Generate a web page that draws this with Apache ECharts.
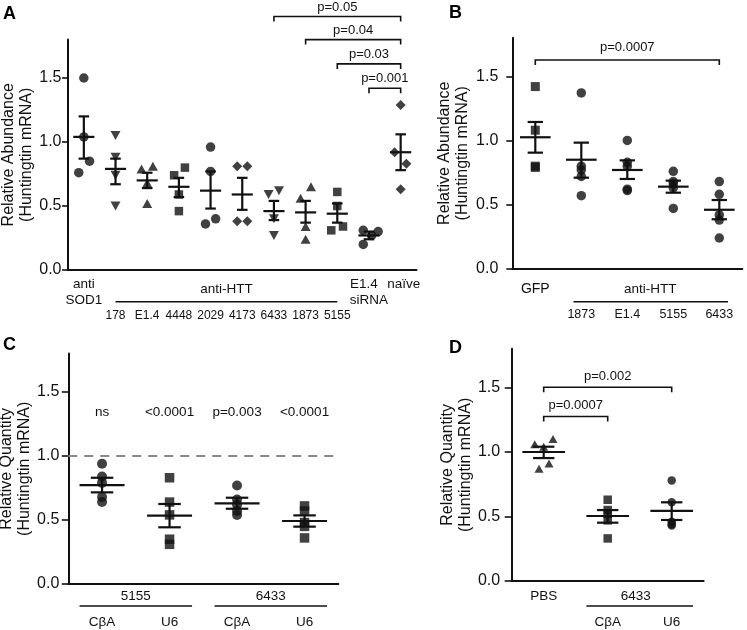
<!DOCTYPE html>
<html><head><meta charset="utf-8">
<script src="https://cdn.jsdelivr.net/npm/echarts@6/dist/echarts.min.js"></script>
<style>html,body{margin:0;padding:0;background:#fff}#c{width:747px;height:630px}</style>
</head><body><div id="c"></div>
<script>
// ---------------- DATA ----------------
const yTicks = [0, 0.5, 1.0, 1.5];
const yMax = 1.8;

// Panel A
const catsA = ['anti\nSOD1','178','E1.4','4448','2029','4173','6433','1873','5155','E1.4\nsiRNA','naïve'];
const symA  = ['circle','triangleDown','triangle','rect','circle','diamond','triangleDown','triangle','rect','circle','diamond'];
const ptsA = [
  [1.50, 1.04, 0.85, 0.76],
  [1.05, 0.88, 0.74, 0.50],
  [0.79, 0.81, 0.68, 0.52],
  [0.74, 0.80, 0.59, 0.46],
  [0.96, 0.77, 0.36, 0.40],
  [0.81, 0.81, 0.38, 0.38],
  [0.59, 0.62, 0.40, 0.27],
  [0.56, 0.65, 0.34, 0.24],
  [0.61, 0.50, 0.31, 0.34],
  [0.31, 0.30, 0.27, 0.20],
  [1.29, 0.92, 0.83, 0.63]
];
const meanA  = [1.04, 0.79, 0.70, 0.65, 0.62, 0.59, 0.46, 0.45, 0.44, 0.27, 0.92];
const semLoA = [0.87, 0.67, 0.64, 0.57, 0.48, 0.47, 0.39, 0.37, 0.37, 0.24, 0.78];
const semHiA = [1.20, 0.87, 0.76, 0.72, 0.77, 0.72, 0.54, 0.54, 0.52, 0.30, 1.06];
const groupA = {label: 'anti-HTT', from: 1, to: 8};
const bracketFromA = [6, 7, 8, 9];
const bracketToA   = [10, 10, 10, 10];
const bracketLvlA  = [1.98, 1.80, 1.61, 1.42];
const bracketTxtA  = ['p=0.05', 'p=0.04', 'p=0.03', 'p=0.001'];

// Panel B
const catsB = ['GFP','1873','E1.4','5155','6433'];
const symB  = ['rect','circle','circle','circle','circle'];
const ptsB = [
  [1.42, 1.08, 0.80, 0.79],
  [1.37, 0.80, 0.77, 0.72, 0.57],
  [1.00, 0.83, 0.80, 0.62, 0.61],
  [0.76, 0.68, 0.66, 0.63, 0.47],
  [0.68, 0.58, 0.42, 0.38, 0.24]
];
const meanB  = [1.025, 0.85, 0.77, 0.64, 0.46];
const semLoB = [0.905, 0.71, 0.70, 0.593, 0.386];
const semHiB = [1.144, 0.983, 0.845, 0.687, 0.536];
const groupB = {label: 'anti-HTT', from: 1, to: 4};
const bracketFromB = [0];
const bracketToB   = [4];
const bracketLvlB  = [1.627];
const bracketTxtB  = ['p=0.0007'];

// Panel C
const catsC = ['CβA','U6','CβA','U6'];
const symC  = ['circle','rect','circle','rect'];
const ptsC = [
  [0.94, 0.84, 0.79, 0.68, 0.64],
  [0.83, 0.64, 0.54, 0.35, 0.31],
  [0.77, 0.66, 0.62, 0.57, 0.54],
  [0.61, 0.57, 0.48, 0.45, 0.36]
];
const meanC  = [0.773, 0.534, 0.63, 0.492];
const semLoC = [0.716, 0.443, 0.588, 0.448];
const semHiC = [0.83, 0.625, 0.674, 0.536];
const groupsC = [{label: '5155', from: 0, to: 1}, {label: '6433', from: 2, to: 3}];
const pTextC = ['ns', '<0.0001', 'p=0.003', '<0.0001'];
const pLevelC = 1.34;
const refLineC = 1.0;

// Panel D
const catsD = ['PBS','CβA','U6'];
const symD  = ['triangle','rect','circle'];
const ptsD = [
  [1.06, 1.04, 1.10, 0.87, 0.91],
  [0.63, 0.55, 0.52, 0.47, 0.33],
  [0.78, 0.61, 0.46, 0.44, 0.43]
];
const meanD  = [1.0, 0.504, 0.543];
const semLoD = [0.953, 0.452, 0.473];
const semHiD = [1.041, 0.55, 0.61];
const groupD = {label: '6433', from: 1, to: 2};
const bracketFromD = [0, 0];
const bracketToD   = [2, 1];
const bracketLvlD  = [1.502, 1.275];
const bracketTxtD  = ['p=0.002', 'p=0.0007'];

// horizontal spread of overlapping dots (fraction of category width)
const jitA = [
  [0,0,0.18,-0.16],[0,0,0,0],[-0.18,0.18,0,0],[-0.15,0.19,0,0],[0,0,-0.16,0.16],
  [-0.16,0.16,-0.16,0.16],[-0.17,0.16,0,0],[-0.16,0.17,0,0],[0,0,-0.19,0.18],
  [-0.18,0.29,0.085,-0.18],[0,-0.19,0.18,0]
];
const jitD = [[-0.14,0,0.145,-0.073,0.083],[0,0,0,0,0],[0,0,0,0,0]];

// ---------------- LAYOUT / STYLE ----------------
const FONT = '"Liberation Sans", Arial, Helvetica, sans-serif';
const INK = '#111';
const grids = [
  {left: 68,    top: 39.6,  width: 348.5, height: 230.4},
  {left: 512.3, top: 37.8,  width: 230,   height: 231},
  {left: 68.3,  top: 353.6, width: 270,   height: 230.4},
  {left: 511.7, top: 348.8, width: 192,   height: 232.2}
];
const bands = grids.map((g, i) => g.width / [catsA, catsB, catsC, catsD][i].length);

function sizeOf(s, panel) {
  const t = {
    0: {circle: 9.5, triangle: [10, 9], triangleDown: [10, 9], rect: 8.5, diamond: 10},
    1: {circle: 9.5, rect: 9},
    2: {circle: 10, rect: 9.5},
    3: {circle: 8.5, triangle: [9, 8], rect: 8.5}
  };
  return t[panel][s];
}
function buildPoints(pts, syms, jit, panel) {
  const out = [];
  pts.forEach((arr, i) => arr.forEach((v, k) => {
    const s = syms[i];
    out.push({
      value: [i, v],
      symbol: s === 'triangleDown' ? 'triangle' : s,
      symbolRotate: s === 'triangleDown' ? 180 : 0,
      symbolSize: sizeOf(s, panel),
      symbolOffset: [(jit && jit[i] ? jit[i][k] : 0) * bands[panel], 0]
    });
  }));
  return out;
}
function semData(m, lo, hi) { return m.map((v, i) => [i, v, lo[i], hi[i]]); }

function errRender(params, api) {
  const c = api.value(0);
  const m = api.coord([c, api.value(1)]);
  const lo = api.coord([c, api.value(2)]);
  const hi = api.coord([c, api.value(3)]);
  const bw = api.size([1, 0])[0];
  const st = {stroke: '#111', lineWidth: 2.2, fill: null};
  return {type: 'group', children: [
    {type: 'line', shape: {x1: m[0] - bw / 3, y1: m[1], x2: m[0] + bw / 3, y2: m[1]}, style: st},
    {type: 'line', shape: {x1: lo[0], y1: lo[1], x2: hi[0], y2: hi[1]}, style: st},
    {type: 'line', shape: {x1: hi[0] - bw / 6, y1: hi[1], x2: hi[0] + bw / 6, y2: hi[1]}, style: st},
    {type: 'line', shape: {x1: lo[0] - bw / 6, y1: lo[1], x2: lo[0] + bw / 6, y2: lo[1]}, style: st}
  ]};
}

function txt(x, y, s, size) {
  return {type: 'text', x: x, y: y, style: {text: s, fill: INK, fontSize: size, fontFamily: FONT, align: 'center', verticalAlign: 'middle'}};
}
function seg(x1, y1, x2, y2, w) {
  return {type: 'line', shape: {x1: x1, y1: y1, x2: x2, y2: y2}, style: {stroke: INK, lineWidth: w || 1.5}};
}
function bracket(x1, x2, y, drop) {
  return {type: 'polyline', shape: {points: [[x1, y + drop], [x1, y], [x2, y], [x2, y + drop]]}, style: {stroke: INK, lineWidth: 1.6, fill: null}};
}
function bracketsOf(api, from, to, lvl, labels, gap) {
  const out = [];
  const X = i => api.coord([i, 0])[0];
  from.forEach((f, k) => {
    const x1 = X(f), x2 = X(to[k]);
    const y = api.coord([0, lvl[k]])[1];
    out.push(bracket(x1, x2, y, 5));
    out.push(txt((x1 + x2) / 2, y - gap, labels[k], 13));
  });
  return out;
}

const shiftA = {9: [-5, 0], 10: [3]};
const annA = (p, api) => {
  const X = i => api.coord([i, 0])[0];
  const Y0 = api.coord([0, 0])[1];
  const ch = bracketsOf(api, bracketFromA, bracketToA, bracketLvlA, bracketTxtA, 9.5);
  catsA.forEach((c, i) => {
    if (i >= groupA.from && i <= groupA.to) { ch.push(txt(X(i), Y0 + 45.5, c, 12)); return; }
    const lines = c.split('\n');
    lines.forEach((l, j) => {
      const dx = shiftA[i] ? (shiftA[i][j] || 0) : 0;
      ch.push(txt(X(i) + dx, Y0 + 14 + j * 16.5, l, 13.5));
    });
  });
  ch.push(txt((X(groupA.from) + X(groupA.to)) / 2, Y0 + 19.5, groupA.label, 13.5));
  ch.push(seg(X(groupA.from), Y0 + 31.7, X(groupA.to), Y0 + 31.7, 1.5));
  return {type: 'group', children: ch};
};
const annB = (p, api) => {
  const X = i => api.coord([i, 0])[0];
  const Y0 = api.coord([0, 0])[1];
  const bw = api.size([1, 0])[0];
  const ch = bracketsOf(api, bracketFromB, bracketToB, bracketLvlB, bracketTxtB, 12.5);
  catsB.forEach((c, i) => {
    if (i >= groupB.from && i <= groupB.to) ch.push(txt(X(i), Y0 + 46, c, 12.5));
    else ch.push(txt(X(i), Y0 + 20, c, 14));
  });
  ch.push(txt((X(groupB.from) + X(groupB.to)) / 2, Y0 + 20, groupB.label, 13.5));
  ch.push(seg(X(groupB.from) - bw * 0.17, Y0 + 33, X(groupB.to) + bw * 0.19, Y0 + 33, 1.5));
  return {type: 'group', children: ch};
};
const annC = (p, api) => {
  const X = i => api.coord([i, 0])[0];
  const Y0 = api.coord([0, 0])[1];
  const bw = api.size([1, 0])[0];
  const ch = [];
  const yp = api.coord([0, pLevelC])[1];
  pTextC.forEach((t, i) => ch.push(txt(X(i), yp, t, 13.5)));
  catsC.forEach((c, i) => ch.push(txt(X(i), Y0 + 38, c, 13.5)));
  groupsC.forEach(g => {
    ch.push(txt((X(g.from) + X(g.to)) / 2, Y0 + 12.7, g.label, 13.5));
    ch.push(seg(X(g.from) - bw / 3, Y0 + 22, X(g.to) + bw / 3, Y0 + 22, 1.5));
  });
  return {type: 'group', children: ch};
};
const annD = (p, api) => {
  const X = i => api.coord([i, 0])[0];
  const Y0 = api.coord([0, 0])[1];
  const bw = api.size([1, 0])[0];
  const ch = bracketsOf(api, bracketFromD, bracketToD, bracketLvlD, bracketTxtD, 11);
  catsD.forEach((c, i) => {
    if (i >= groupD.from && i <= groupD.to) ch.push(txt(X(i), Y0 + 41.3, c, 13.5));
    else ch.push(txt(X(i), Y0 + 15.7, c, 13.5));
  });
  ch.push(txt((X(groupD.from) + X(groupD.to)) / 2 - 4, Y0 + 15.7, groupD.label, 13.5));
  ch.push(seg(X(groupD.from) - bw / 3, Y0 + 25, X(groupD.to) + bw / 3, Y0 + 25, 1.5));
  return {type: 'group', children: ch};
};

const yNames = ['Relative Abundance\n(Huntingtin mRNA)', 'Relative Abundance\n(Huntingtin mRNA)',
                'Relative Quantity\n(Huntingtin mRNA)', 'Relative Quantity\n(Huntingtin mRNA)'];
const nameGaps = [33, 41, 31.5, 37];
const labelMargins = [6.5, 14, 9, 11.5];
const yTickLen = [6, 6, 6.5, 7];
const xTickLen = [5, 6, 5, 6];

const xAxes = [catsA, catsB, catsC, catsD].map((cats, i) => ({
  type: 'category', gridIndex: i, data: cats, boundaryGap: true,
  axisLine: {lineStyle: {color: '#111', width: 2}},
  axisTick: {alignWithLabel: true, length: xTickLen[i], lineStyle: {color: '#111', width: 1.6}},
  axisLabel: {show: false}, splitLine: {show: false}
}));
const yAxes = [0, 1, 2, 3].map(i => ({
  type: 'value', gridIndex: i, min: 0, max: yMax,
  name: yNames[i], nameLocation: 'middle', nameRotate: 90, nameGap: nameGaps[i],
  nameTextStyle: {fontSize: 16, lineHeight: 17.5, color: INK, fontFamily: FONT},
  axisLine: {show: true, lineStyle: {color: '#111', width: 2}},
  axisTick: {show: true, length: yTickLen[i], lineStyle: {color: '#111', width: 1.6}, customValues: yTicks},
  axisLabel: {fontSize: 16, color: INK, fontFamily: FONT, margin: labelMargins[i], customValues: yTicks,
              formatter: v => Number(v).toFixed(1)},
  splitLine: {show: false}
}));

const series = [];
const allPts = [[ptsA, symA, jitA], [ptsB, symB, null], [ptsC, symC, null], [ptsD, symD, jitD]];
const allSem = [[meanA, semLoA, semHiA], [meanB, semLoB, semHiB], [meanC, semLoC, semHiC], [meanD, semLoD, semHiD]];
const anns = [annA, annB, annC, annD];
for (let i = 0; i < 4; i++) {
  const sc = {
    type: 'scatter', xAxisIndex: i, yAxisIndex: i, silent: true, animation: false,
    itemStyle: {color: '#111'},
    data: buildPoints(allPts[i][0], allPts[i][1], allPts[i][2], i)
  };
  if (i === 2) {
    sc.markLine = {silent: true, symbol: 'none', animation: false, label: {show: false},
      lineStyle: {color: '#8a8a8a', width: 2, type: [9, 7]},
      data: [{yAxis: refLineC}]};
  }
  series.push(sc);
  series.push({type: 'custom', xAxisIndex: i, yAxisIndex: i, silent: true, animation: false,
    renderItem: errRender, data: semData(allSem[i][0], allSem[i][1], allSem[i][2])});
  series.push({type: 'custom', xAxisIndex: i, yAxisIndex: i, silent: true, animation: false, clip: false,
    renderItem: anns[i], data: [[0, 0]]});
}

const letters = [['A', 3, 5.5], ['B', 449, 4.5], ['C', 3, 336.5], ['D', 449, 339.5]];
const chart = echarts.init(document.getElementById('c'), null, {renderer: 'canvas', width: 747, height: 630});
chart.setOption({
  backgroundColor: '#ffffff',
  animation: false,
  title: letters.map(l => ({text: l[0], left: l[1], top: l[2], padding: 0,
    textStyle: {fontSize: 18, fontWeight: 'bold', color: '#000', fontFamily: FONT}})),
  grid: grids.map(g => Object.assign({containLabel: false, outerBoundsMode: 'none'}, g)),
  xAxis: xAxes,
  yAxis: yAxes,
  series: series
});
</script></body></html>
